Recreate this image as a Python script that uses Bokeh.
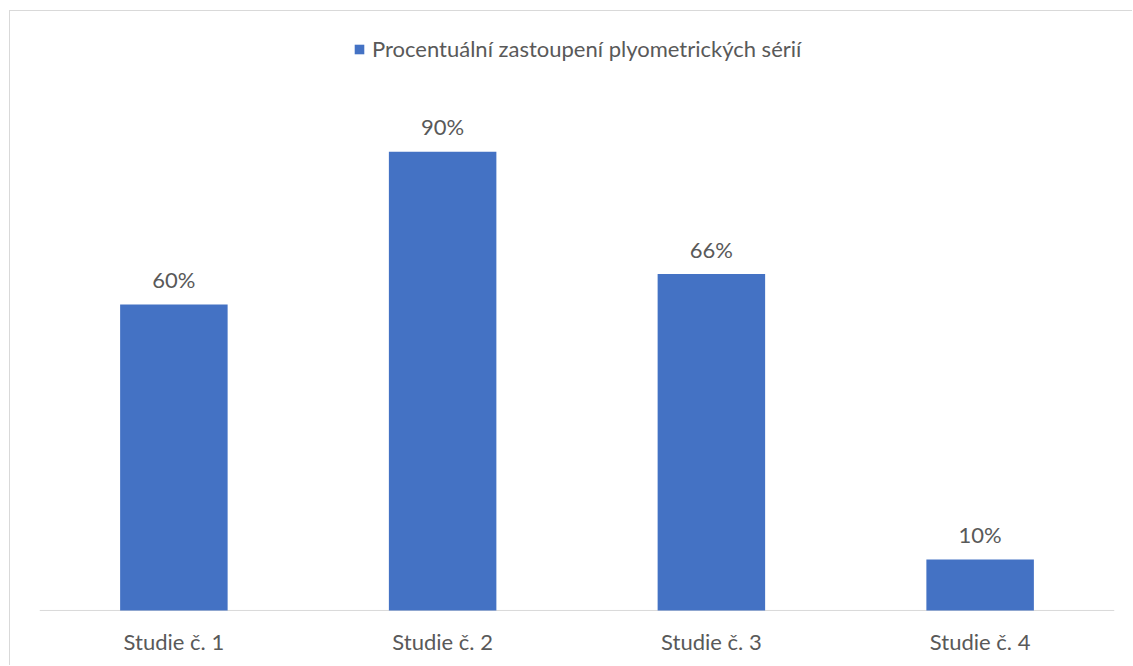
from bokeh.plotting import figure
from bokeh.models import FactorRange, Range1d, ColumnDataSource, Legend, LegendItem
from bokeh.core.properties import value
from bokeh.embed import file_html
from bokeh.resources import INLINE

categories = ["Studie č. 1", "Studie č. 2", "Studie č. 3", "Studie č. 4"]
values = [60, 90, 66, 10]
value_labels = ["60%", "90%", "66%", "10%"]
series_name = "Procentuální zastoupení plyometrických sérií"

FONT = "Lato"
TXT = "#595959"
BAR = "#4472C4"
FS = "22px"

src = ColumnDataSource(dict(cat=categories, val=values, lab=value_labels))

p = figure(width=1123, height=655, x_range=FactorRange(*categories, range_padding=0),
           y_range=Range1d(-0.2, 117.5), output_backend="svg", toolbar_location=None,
           min_border_left=29, min_border_right=19, min_border_top=0, min_border_bottom=55,
           styles={"margin-left": "9px", "margin-top": "10px",
                   "border-left": "1px solid #d9d9d9", "border-top": "1px solid #d9d9d9"})
p.yaxis.visible = False
p.xgrid.visible = False
p.ygrid.visible = False
p.outline_line_color = None

# baseline across the full category span (synthetic categorical coordinates 0..N)
p.segment(x0=[0], x1=[len(categories)], y0=[0], y1=[0], line_color="#d9d9d9", line_width=1)

r = p.vbar(x="cat", top="val", bottom=0, width=0.4, source=src, fill_color=BAR, line_color=None)
p.text(x="cat", y="val", text="lab", source=src, text_align="center", text_baseline="middle",
       y_offset=-25, text_font=value(FONT), text_font_size=FS, text_color=TXT)

xa = p.xaxis[0]
xa.axis_line_color = None
xa.major_tick_line_color = None
xa.minor_tick_line_color = None
xa.major_label_text_font = FONT
xa.major_label_text_font_size = FS
xa.major_label_text_color = TXT
xa.major_label_standoff = 10

legend = Legend(items=[LegendItem(label=series_name, renderers=[r])], location=(314, 549),
                orientation="horizontal", padding=0, margin=0, border_line_color=None,
                background_fill_alpha=0, glyph_width=12, glyph_height=12, label_standoff=7,
                label_height=22,
                label_text_font=FONT, label_text_font_size=FS, label_text_color=TXT)
p.add_layout(legend, "center")

open("out.html", "w").write(file_html(p, INLINE))
